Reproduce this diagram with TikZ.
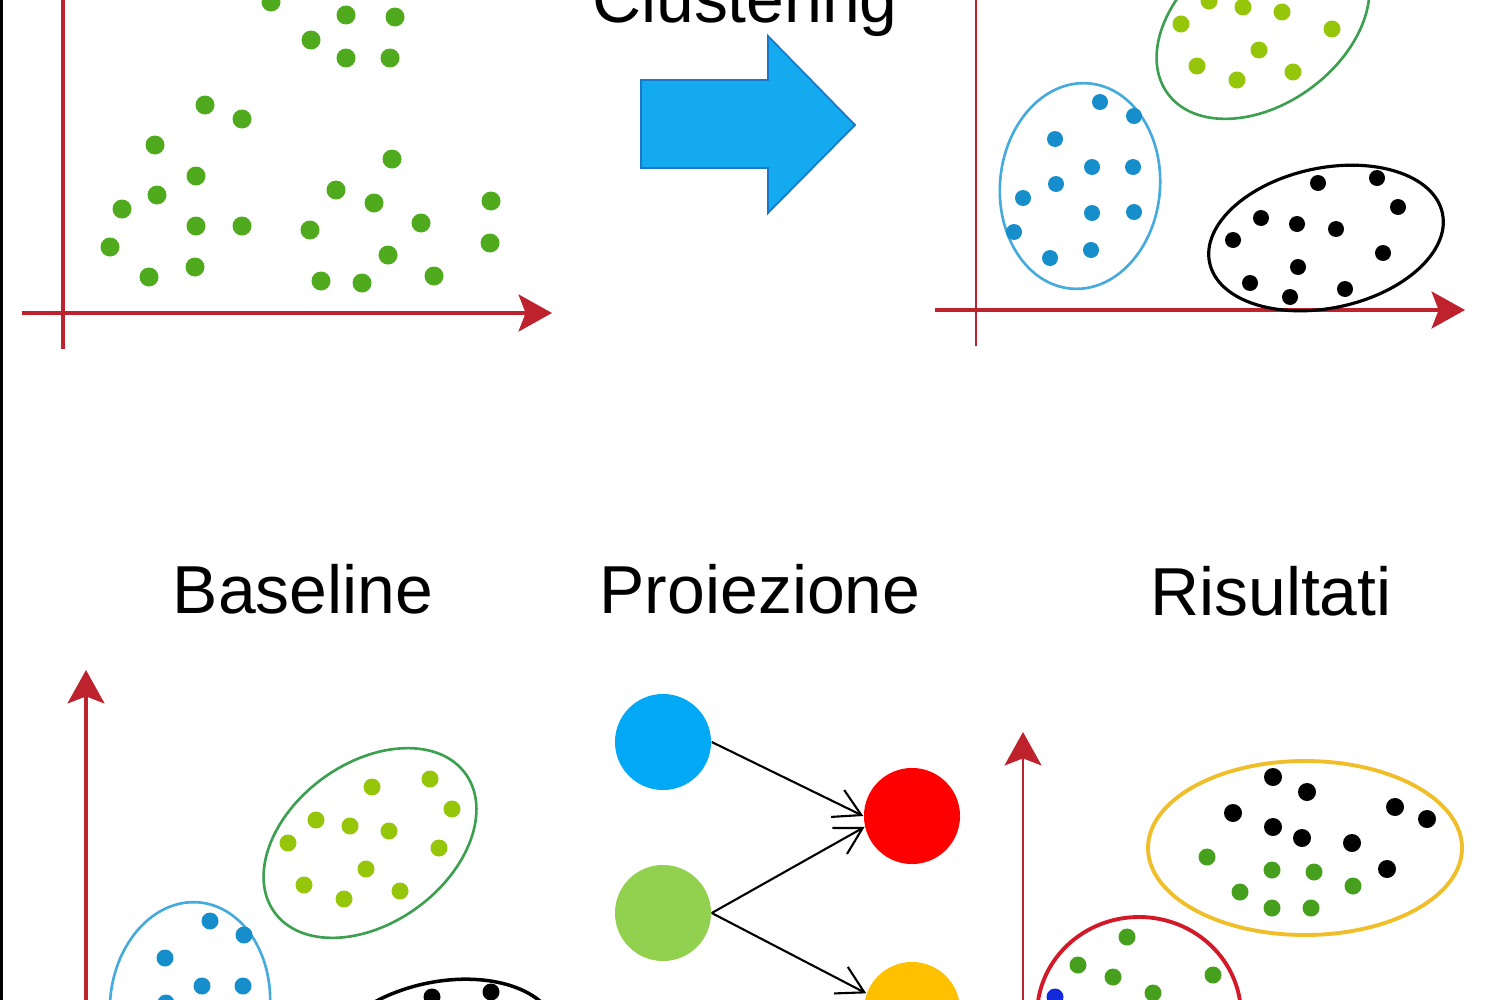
\documentclass[tikz,border=0pt]{standalone}
\usepackage{fontspec}
\setmainfont{Liberation Sans}
\usepackage{tikz}
\usetikzlibrary{arrows.meta,positioning}
\definecolor{axisred}{RGB}{190,35,45}
\definecolor{dotgreen}{RGB}{80,170,30}
\definecolor{limedot}{RGB}{150,198,10}
\definecolor{ringgreen}{RGB}{60,160,80}
\definecolor{dotblue}{RGB}{22,142,204}
\definecolor{ringblue}{RGB}{70,170,220}
\definecolor{flowblue}{RGB}{20,170,240}
\definecolor{flowedge}{RGB}{25,120,200}
\definecolor{resgreen}{RGB}{70,160,30}
\definecolor{resblue}{RGB}{20,40,220}
\definecolor{ringyellow}{RGB}{240,190,40}
\definecolor{ringred}{RGB}{210,25,40}
\definecolor{projblue}{RGB}{3,169,244}
\definecolor{projgreen}{RGB}{146,208,80}
\definecolor{projred}{RGB}{255,0,0}
\definecolor{projyellow}{RGB}{255,192,0}

\begin{document}
\begin{tikzpicture}[x=0.01cm,y=-0.01cm,
    axisline/.style={axisred,line width=1.1pt},
    axtip/.style={-{Stealth[length=9.5pt,width=10.5pt,inset=2pt]}},
    ring/.style={line width=0.75pt},
    paneltitle/.style={font=\fontsize{19.3}{23}\selectfont,anchor=base,inner sep=0pt},
    proj/.style={circle,minimum size=0.96cm,inner sep=0pt},
    link/.style={line width=0.6pt,-{Straight Barb[length=7.5pt,width=8.5pt]}}]
    \useasboundingbox (0,0) rectangle (1500,1000);
    \clip (0,0) rectangle (1500,1000);
    \fill[white] (0,0) rectangle (1500,1000);
    \fill[black] (0,0) rectangle (3,1000);
    % dot offsets of the three clusters (relative to the ring centre)
    \def\bluepts{(20,-84),(54,-70),(-25,-47),(12,-19),(53,-19),(-24,-2),(-57,12),(12,27),(54,26),(-66,46),(-30,72),(11,64)}
    \def\limepts{(2,-56),(60,-64),(82,-34),(-54,-23),(-20,-17),(19,-12),(-82,0),(69,5),(-4,26),(-66,42),(-26,56),(30,48)}
    \def\blackpts{(-8,-55),(51,-60),(72,-31),(-65,-20),(-29,-14),(10,-9),(-93,2),(57,15),(-28,29),(-76,45),(19,51),(-36,59)}

    % raw data, before clustering
    \draw[axisline,line width=0.9pt] (63,-10) -- (63,349);
    \draw[axisline,axtip] (22,313) -- (552,313);
    \foreach \p in {(271,2),(346,15),(395,17),(311,40),(346,58),(390,58),(205,105),(242,119),
      (155,145),(196,176),(157,195),(122,209),(196,226),(242,226),(110,247),(195,267),(149,277),
      (310,230),(336,190),(374,203),(392,159),(421,223),(388,255),(434,276),(321,281),(362,283),
      (491,201),(490,243)}
      \fill[dotgreen] \p circle (9.5);

    % clustering step
    \node[paneltitle] (clust) at (745,22) {Clustering};
    \draw[flowedge,fill=flowblue,line width=0.5pt] (641,80) -- (768,80) -- (768,36) -- (855,125)
      -- (768,213) -- (768,168) -- (641,168) -- cycle;

    % clustered data
    \draw[axisline,line width=0.6pt] (976,-10) -- (976,346);
    \draw[axisline,axtip] (935,310) -- (1465,310);
    \begin{scope}[shift={(1080,186)}]
      \draw[ring,ringblue,rotate=-5] (0,0) ellipse (80 and 103);
      \foreach \p in \bluepts \fill[dotblue] \p circle (8);
    \end{scope}
    \begin{scope}[shift={(1263,24)}]
      \draw[ring,ringgreen,rotate=36] (0,0) ellipse (118 and 80);
      \foreach \p in \limepts \fill[limedot] \p circle (8.5);
    \end{scope}
    \begin{scope}[shift={(1326,238)}]
      \draw[ring,black,line width=0.9pt,rotate=12] (0,0) ellipse (119 and 70);
      \foreach \p in \blackpts \fill[black] \p circle (8);
    \end{scope}

    % baseline
    \node[paneltitle] (base) at (303,613) {Baseline};
    \draw[axisline,line width=0.9pt,axtip] (86,1010) -- (86,670);
    \begin{scope}[shift={(190,1005)}]
      \draw[ring,ringblue,rotate=-5] (0,0) ellipse (80 and 103);
      \foreach \p in \bluepts \fill[dotblue] \p circle (8.5);
    \end{scope}
    \begin{scope}[shift={(370,843)}]
      \draw[ring,ringgreen,rotate=36] (0,0) ellipse (118 and 80);
      \foreach \p in \limepts \fill[limedot] \p circle (8.5);
    \end{scope}
    \begin{scope}[shift={(440,1052)}]
      \draw[ring,black,line width=1pt,rotate=12] (0,0) ellipse (119 and 70);
      \foreach \p in \blackpts \fill[black] \p circle (8.5);
    \end{scope}

    % projection of the clusters
    \node[paneltitle] (proiez) at (760,613) {Proiezione};
    \node[proj,fill=projblue] (pblue) at (663,742) {};
    \node[proj,fill=projgreen] (pgreen) at (663,913) {};
    \node[proj,fill=projred] (pred) at (912,816) {};
    \node[proj,fill=projyellow] (pyellow) at (912,1010) {};
    \draw[link] (pblue.east) -- (pred.west);
    \draw[link] (pgreen.east) -- (pred.193);
    \draw[link] (pgreen.east) -- (pyellow.160);

    % results
    \node[paneltitle] (risult) at (1271,615) {Risultati};
    \draw[axisline,line width=0.8pt,axtip] (1023,1010) -- (1023,732);
    \draw[ringyellow,line width=1.1pt] (1305,848) ellipse (157 and 87);
    \draw[ringred,line width=1.1pt] (1139,1015) ellipse (102 and 98);
    \foreach \p in {(1273,777),(1307,792),(1233,813),(1273,827),(1302,838),(1352,843),
      (1395,807),(1427,819),(1387,869)}
      \fill[black] \p circle (9);
    \foreach \p in {(1207,857),(1272,870),(1314,872),(1240,892),(1353,886),(1272,908),(1311,908),
      (1127,937),(1078,965),(1113,977),(1213,975),(1153,993)}
      \fill[resgreen] \p circle (8.5);
    \fill[resblue] (1055,997) circle (8.5);
\end{tikzpicture}
\end{document}
